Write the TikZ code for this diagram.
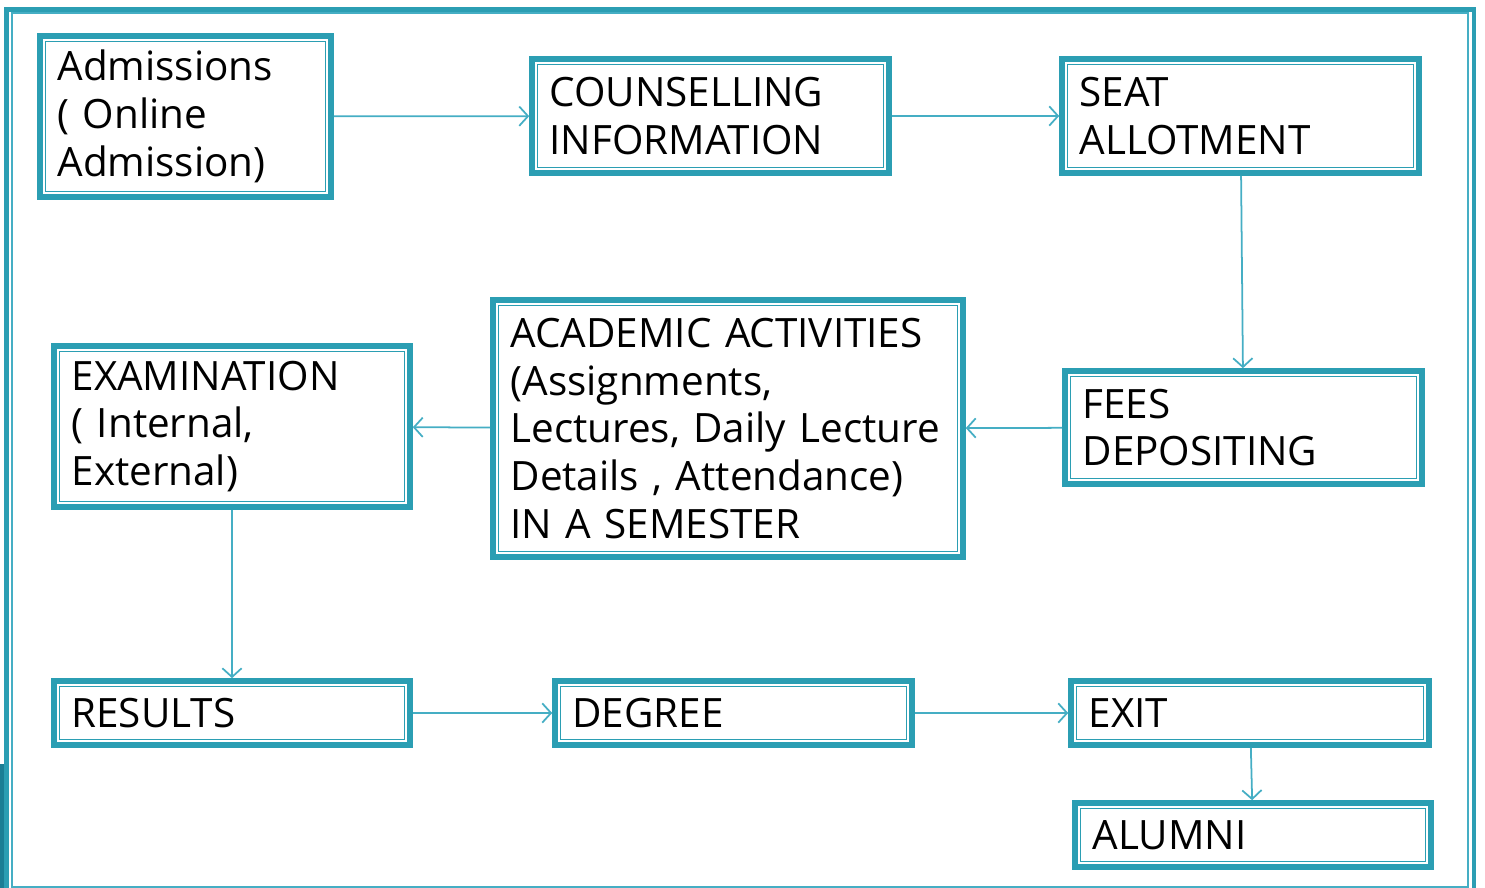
\documentclass[tikz,border=0pt]{standalone}
\usepackage{fontspec}
\setmainfont{Open Sans}
\usetikzlibrary{arrows.meta}
\definecolor{boxteal}{HTML}{2B9EB3}
\definecolor{lineteal}{HTML}{45AEC4}
\definecolor{edgeteal}{HTML}{1B7E95}
\hyphenpenalty=10000

\begin{document}
\begin{tikzpicture}[x=0.02cm,y=-0.02cm,
  stage/.style={draw=boxteal, line width=3.2pt, inner xsep=0.35cm, inner ysep=0pt,
    text width=#1, align=left, minimum height=1.28cm,
    font=\fontsize{23}{27.2}\selectfont,
    path picture={\draw[boxteal, line width=0.7pt]
      ([shift={(3pt,3pt)}]path picture bounding box.south west) rectangle
      ([shift={(-3pt,-3pt)}]path picture bounding box.north east);}},
  stage/.default=6.44cm,
  flow/.style={draw=lineteal, line width=1pt, -{Straight Barb[length=5pt,width=11pt]}}]
  \useasboundingbox (0,0) rectangle (1485,888);
  \fill[edgeteal] (0,764) rectangle (4,888);
  \draw[boxteal, line width=2.5pt] (6.5,9.5) rectangle (1474,893);
  \draw[lineteal, line width=0.6pt] (12,13) rectangle (1468,887);

  \node[stage=5.12cm, minimum height=3.22cm] (adm) at (185.5,116.5) {Admissions\\( Online\\Admission)};
  \node[stage, minimum height=2.28cm] (coun) at (710.5,116) {COUNSELLING\\INFORMATION};
  \node[stage, minimum height=2.28cm] (seat) at (1240.5,116) {SEAT\\ALLOTMENT};
  \node[stage, minimum height=2.26cm] (fees) at (1243.5,427.5) {FEES\\DEPOSITING};
  \node[stage=8.70cm, minimum height=5.14cm] (acad) at (728,428.5) {ACADEMIC ACTIVITIES\\(Assignments,\\Lectures, Daily Lecture\\Details , Attendance)\\IN A SEMESTER};
  \node[stage=6.42cm, minimum height=3.22cm] (exam) at (232,426.5) {EXAMINATION\\( Internal,\\External)};
  \node[stage=6.42cm] (res) at (232,713) {RESULTS};
  \node[stage] (deg) at (733.5,713) {DEGREE};
  \node[stage=6.46cm] (exit) at (1250,713) {EXIT};
  \node[stage=6.42cm] (alum) at (1253,835) {ALUMNI};

  \draw[flow] (adm) -- (coun);
  \draw[flow] (coun) -- (seat);
  \draw[flow] (seat) -- (fees);
  \draw[flow] (fees) -- (acad);
  \draw[flow] (acad) -- (exam);
  \draw[flow] (exam) -- (res);
  \draw[flow] (res) -- (deg);
  \draw[flow] (deg) -- (exit);
  \draw[flow] (exit) -- (alum);
\end{tikzpicture}
\end{document}
